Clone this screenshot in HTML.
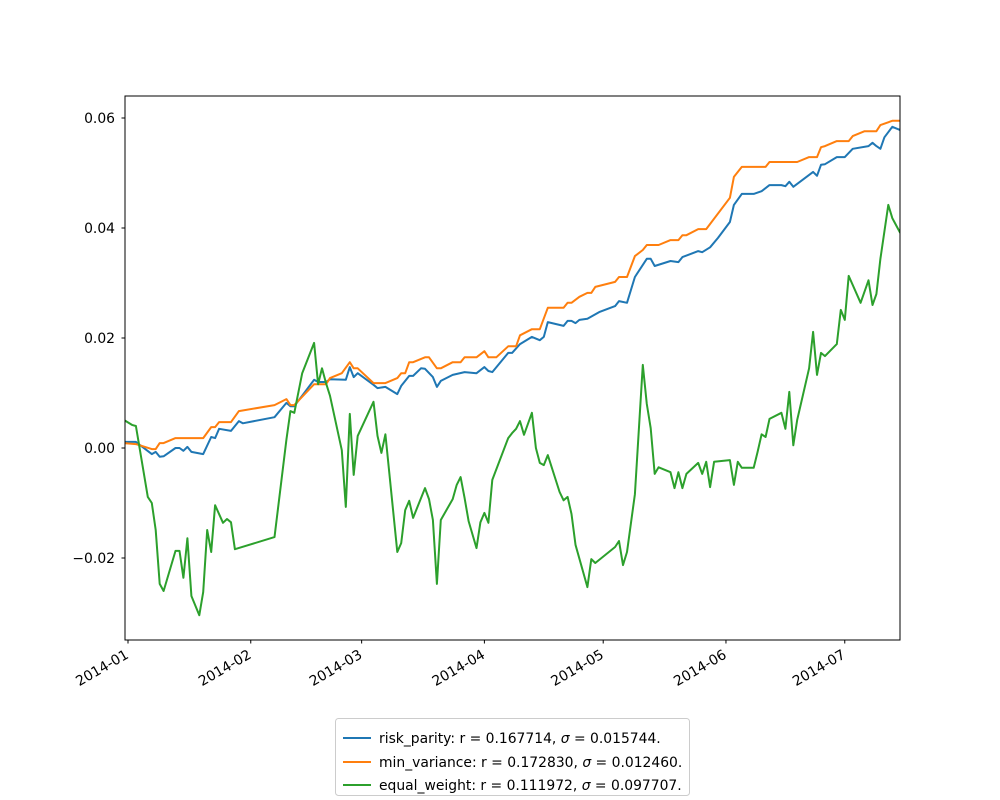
<!DOCTYPE html>
<html><head><meta charset="utf-8"><style>
html,body{margin:0;padding:0;background:#fff;}
svg{display:block;font-family:"DejaVu Sans","Liberation Sans",sans-serif;}
</style></head><body>
<svg id="chart" width="1000" height="800" viewBox="0 0 1000 800" xmlns="http://www.w3.org/2000/svg">
<defs><clipPath id="clip"><rect x="125" y="96" width="775" height="544"/></clipPath></defs>
<rect x="0" y="0" width="1000" height="800" fill="#fff"/>
<g id="plot" clip-path="url(#clip)"></g>
<rect x="125" y="96" width="775" height="544" fill="none" stroke="#000" stroke-width="1"/>
<g id="yticks"></g>
<g id="xticks"></g>
<g>
<rect x="335.5" y="718.5" width="354" height="77" rx="3" fill="#fff" stroke="#ccc"/>
<g>
<line x1="343" y1="738" x2="371" y2="738" stroke="#1f77b4" stroke-width="2"/>
<text x="379" y="743" font-size="13.9">risk_parity: r = 0.167714, <tspan font-style="italic">σ</tspan> = 0.015744.</text></g>
<g>
<line x1="343" y1="762" x2="371" y2="762" stroke="#ff7f0e" stroke-width="2"/>
<text x="379" y="767" font-size="13.9">min_variance: r = 0.172830, <tspan font-style="italic">σ</tspan> = 0.012460.</text></g>
<g>
<line x1="343" y1="785" x2="371" y2="785" stroke="#2ca02c" stroke-width="2"/>
<text x="379" y="790" font-size="13.9">equal_weight: r = 0.111972, <tspan font-style="italic">σ</tspan> = 0.097707.</text></g>
</g>
</svg>
<script>
// days since 2014-01-01 and cumulative return values
const greenDays=[-1,1,2,5,6,7,8,9,12,13,14,15,16,18,19,20,21,22,24,25,26,27,37,40,41,42,44,47,48,49,50,51,54,55,56,57,58,62,63,64,65,68,69,70,71,72,75,76,77,78,79,82,83,84,85,86,88,89,90,91,92,96,97,98,99,100,102,103,104,105,106,109,110,111,112,113,116,117,118,123,124,125,126,128,130,131,132,133,134,137,138,139,140,141,144,145,146,147,148,152,153,154,155,158,159,160,161,162,165,166,167,168,169,172,173,174,175,176,179,180,181,182,185,187,188,189,190,192,193,195];
const greenVals=[.0051,.0042,.0040,-.0089,-.0100,-.0149,-.0247,-.0260,-.0187,-.0187,-.0236,-.0164,-.0269,-.0304,-.0262,-.0149,-.0189,-.0104,-.0136,-.0129,-.0135,-.0184,-.0162,.0015,.0067,.0064,.0136,.0191,.0116,.0145,.0118,.0095,-.0004,-.0107,.0062,-.0049,.0022,.0084,.0022,-.0009,.0025,-.0189,-.0173,-.0113,-.0096,-.0127,-.0073,-.0093,-.0131,-.0247,-.0131,-.0093,-.0067,-.0053,-.0091,-.0133,-.0182,-.0135,-.0118,-.0136,-.0058,.0018,.0027,.0035,.0049,.0024,.0064,.0000,-.0027,-.0031,-.0013,-.0080,-.0095,-.0089,-.0120,-.0176,-.0253,-.0202,-.0209,-.0180,-.0169,-.0213,-.0189,-.0084,.0151,.0080,.0036,-.0047,-.0035,-.0044,-.0073,-.0044,-.0073,-.0047,-.0027,-.0047,-.0025,-.0071,-.0025,-.0022,-.0067,-.0025,-.0036,-.0036,-.0007,.0025,.0020,.0053,.0064,.0035,.0102,.0005,.0051,.0145,.0211,.0133,.0173,.0167,.0189,.0251,.0233,.0313,.0264,.0305,.0260,.0280,.0344,.0442,.0418,.0391];
const orangeDays=[-1,2,6,7,8,9,12,19,21,22,23,26,28,37,40,41,42,47,50,51,54,56,57,58,62,65,68,69,70,71,72,75,76,78,79,82,84,85,88,90,91,93,96,98,99,102,104,106,110,111,112,114,116,117,118,123,124,126,128,130,131,134,137,139,140,141,144,146,152,153,155,161,162,169,172,174,175,176,179,182,183,186,189,190,193,195];
const orangeVals=[.0009,.0007,-.0002,-.0002,.0009,.0009,.0018,.0018,.0038,.0038,.0047,.0047,.0067,.0078,.0089,.0078,.0078,.0116,.0116,.0127,.0136,.0156,.0145,.0145,.0118,.0118,.0127,.0136,.0136,.0156,.0156,.0165,.0165,.0145,.0145,.0156,.0156,.0165,.0165,.0176,.0165,.0165,.0185,.0185,.0205,.0216,.0216,.0255,.0255,.0264,.0264,.0275,.0282,.0282,.0293,.0302,.0311,.0311,.0349,.0360,.0369,.0369,.0378,.0378,.0387,.0387,.0398,.0398,.0455,.0493,.0511,.0511,.0520,.0520,.0529,.0529,.0547,.0549,.0558,.0558,.0567,.0576,.0576,.0587,.0595,.0595];
const blueDays=[-1,2,6,7,8,9,12,13,14,15,16,19,21,22,23,26,28,29,37,40,41,42,47,48,50,51,55,56,57,58,62,63,65,68,69,71,72,74,75,77,78,79,82,85,88,90,91,92,96,97,99,102,104,105,106,110,111,112,113,114,116,119,123,124,126,128,131,132,133,137,139,140,144,145,147,149,152,153,155,158,160,162,165,166,167,168,173,174,175,176,179,181,183,187,188,189,190,191,193,195];
const blueVals=[.0011,.0011,-.0011,-.0007,-.0016,-.0015,.0000,.0000,-.0005,.0002,-.0007,-.0011,.0020,.0018,.0035,.0031,.0049,.0045,.0056,.0082,.0076,.0076,.0124,.0120,.0120,.0125,.0124,.0147,.0129,.0136,.0115,.0109,.0111,.0098,.0113,.0131,.0131,.0145,.0144,.0129,.0111,.0122,.0133,.0138,.0136,.0147,.0140,.0138,.0173,.0173,.0189,.0202,.0196,.0202,.0229,.0222,.0231,.0231,.0227,.0233,.0235,.0247,.0258,.0267,.0264,.0311,.0344,.0344,.0331,.0340,.0338,.0347,.0358,.0356,.0365,.0382,.0411,.0442,.0462,.0462,.0467,.0478,.0478,.0476,.0484,.0475,.0502,.0495,.0515,.0516,.0529,.0529,.0544,.0549,.0555,.0549,.0544,.0565,.0584,.0578];
const yTicks=[-0.02,0.00,0.02,0.04,0.06];
const yTickLabels=["\u22120.02","0.00","0.02","0.04","0.06"];
const xTickDays=[0,31,59,90,120,151,181];
const xTickLabels=["2014-01","2014-02","2014-03","2014-04","2014-05","2014-06","2014-07"];

const NS="http://www.w3.org/2000/svg";
function xS(d){return 128+3.96*d;}
function yS(v){return 448-5500*v;}
const plot=document.getElementById('plot');
function drawLine(days,vals,color,name){
  const p=document.createElementNS(NS,'polyline');
  p.setAttribute('points',days.map((d,i)=>xS(d).toFixed(1)+','+yS(vals[i]).toFixed(1)).join(' '));
  p.setAttribute('fill','none');p.setAttribute('stroke',color);p.setAttribute('stroke-width','2');
  p.setAttribute('stroke-linejoin','round');
  
  
  plot.appendChild(p);
}
drawLine(blueDays,blueVals,'#1f77b4','risk-parity-line');
drawLine(orangeDays,orangeVals,'#ff7f0e','min-variance-line');
drawLine(greenDays,greenVals,'#2ca02c','equal-weight-line');

const yg=document.getElementById('yticks');
yTicks.forEach((v,i)=>{
  const y=yS(v);
  const l=document.createElementNS(NS,'line');
  l.setAttribute('x1',121.5);l.setAttribute('x2',125);l.setAttribute('y1',y);l.setAttribute('y2',y);l.setAttribute('stroke','#000');
  
  
  yg.appendChild(l);
  const t=document.createElementNS(NS,'text');
  t.setAttribute('x',115);t.setAttribute('y',y+5);t.setAttribute('text-anchor','end');t.setAttribute('font-size','13.9');
  t.textContent=yTickLabels[i];
  
  
  yg.appendChild(t);
});
const xg=document.getElementById('xticks');
xTickDays.forEach((d,i)=>{
  const x=xS(d);
  const l=document.createElementNS(NS,'line');
  l.setAttribute('x1',x);l.setAttribute('x2',x);l.setAttribute('y1',640);l.setAttribute('y2',643.5);l.setAttribute('stroke','#000');
  
  
  xg.appendChild(l);
  const t=document.createElementNS(NS,'text');
  t.setAttribute('x',x-1);t.setAttribute('y',658);t.setAttribute('text-anchor','end');t.setAttribute('font-size','13.9');
  t.setAttribute('transform','rotate(-30 '+(x-1)+' 653)');
  t.textContent=xTickLabels[i];
  
  
  xg.appendChild(t);
});
</script>
</body></html>
